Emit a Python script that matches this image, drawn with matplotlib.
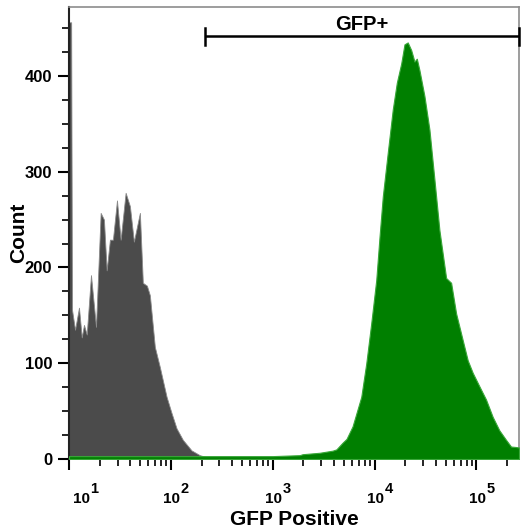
import matplotlib
matplotlib.use("Agg")
import matplotlib.pyplot as plt
from matplotlib.ticker import FixedLocator, NullFormatter
import numpy as np

plt.rcParams['font.family'] = ['Liberation Sans', 'DejaVu Sans']

# Control (unstained) histogram: fluorescence intensity vs count
control_x = [10, 10.5, 10.7, 11.46, 12.53, 13.34, 14.03, 14.93, 16.44, 18.41, 20.46,
             22.03, 23.44, 25.23, 26.98, 29.58, 32.14, 35.97, 39.63, 43.35, 49.66,
             53.09, 58.21, 62.23, 69.66, 77.98, 90.78, 101.6, 113.8, 131.2, 159.6,
             192.3, 223.9, 251]
control_y = [456, 456, 156, 135, 158, 127, 140, 130, 192, 138, 257,
             250, 197, 229, 229, 270, 229, 278, 264, 227, 257,
             184, 181, 171, 117, 96, 65, 48, 32, 20, 9,
             4, 2, 0]

# GFP sample histogram
gfp_x = [10, 1000, 1841, 1968, 2891, 3873, 4217, 4853, 5309, 6081, 7413, 8299,
         9290, 10399, 11194, 12050, 13490, 15101, 16558, 18281, 19679, 21184,
         22909, 24660, 26002, 27606, 30903, 34594, 38726, 43351, 50466, 56494,
         63241, 73451, 82224, 92045, 106905, 124451, 144544, 167880, 195434,
         218776, 244906, 262144]
gfp_y = [3, 3, 4, 5, 6.5, 8.7, 10, 17, 21, 34, 65, 100,
         142, 187, 232, 274, 320, 365, 393, 413, 433, 435,
         427, 415, 418, 406, 379, 344, 292, 239, 189, 184,
         152, 124, 103, 90, 76, 62, 44, 30, 20,
         13, 12.5, 12]

gate_label = "GFP+"
gate_range = [217, 262144]
gate_level = 442

x_major = [10, 100, 1000, 10000, 100000]
x_exponents = ['1', '2', '3', '4', '5']
y_major = [0, 100, 200, 300, 400]

fig = plt.figure(figsize=(5.24, 5.29), dpi=100)
ax = fig.add_axes([69/524, 1 - 459/529, 450/524, 452/529])

ax.fill_between(control_x, control_y, 0, color='#4b4b4b', edgecolor='#8a8a8a',
                linewidth=0.6, zorder=2)
ax.fill_between(gfp_x, gfp_y, 0, color='#007f00', edgecolor='#3aa83a',
                linewidth=0.8, zorder=3)

ax.set_xscale('log')
ax.set_xlim(10, 262144)
ax.set_ylim(0, 472)

minors = []
for dec in [10, 100, 1000, 10000, 100000]:
    for m in range(2, 10):
        v = dec * m
        if v < 262144:
            minors.append(v)
ax.xaxis.set_major_locator(FixedLocator(x_major))
ax.xaxis.set_major_formatter(NullFormatter())
ax.xaxis.set_minor_locator(FixedLocator(minors))
ax.xaxis.set_minor_formatter(NullFormatter())

ax.yaxis.set_major_locator(FixedLocator(y_major))
ax.yaxis.set_minor_locator(FixedLocator([25, 50, 75, 125, 150, 175, 225, 250, 275,
                                         325, 350, 375, 425, 450]))

ax.tick_params(axis='both', which='major', length=8, width=1.5, color='black')
ax.tick_params(axis='both', which='minor', length=5, width=1.2, color='black')
ax.tick_params(axis='y', which='major', labelsize=12, pad=4)
for lab in ax.get_yticklabels():
    lab.set_fontweight('bold')

# x tick labels: base "10" with full-size exponent
px = 72 / 100.0
for i, (v, e) in enumerate(zip(x_major, x_exponents)):
    shift = 12 if i == 0 else 1
    ax.annotate('10', xy=(v, 0), xycoords=('data', 'axes fraction'),
                xytext=(shift * px, -44 * px), textcoords='offset points',
                ha='center', va='baseline', fontsize=11, fontweight='bold')
    ax.annotate(e, xy=(v, 0), xycoords=('data', 'axes fraction'),
                xytext=((shift + 9) * px, -34 * px), textcoords='offset points',
                ha='left', va='baseline', fontsize=10.5, fontweight='bold')

for s in ['top', 'right']:
    ax.spines[s].set_color('#8c8c8c')
    ax.spines[s].set_linewidth(1.2)
ax.spines['left'].set_color('#222222')
ax.spines['left'].set_linewidth(1.5)
ax.spines['bottom'].set_color('#222222')
ax.spines['bottom'].set_linewidth(1.2)

ax.set_xlabel('GFP Positive', fontsize=15, fontweight='bold')
ax.xaxis.set_label_coords(0.5, -(525 - 459) / 452)
ax.xaxis.label.set_verticalalignment('baseline')
ax.set_ylabel('Count', fontsize=15, fontweight='bold')
ax.yaxis.set_label_coords(-0.09, 0.5)

# gate bar
ax.plot(gate_range, [gate_level, gate_level], color='black', lw=1.8, zorder=5,
        solid_capstyle='butt', clip_on=False)
for gx in gate_range:
    ax.plot([gx, gx], [gate_level - 10, gate_level + 8], color='black', lw=1.8,
            zorder=5, clip_on=False)
gmid = np.sqrt(gate_range[0] * gate_range[1])
ax.text(gmid, 448, gate_label, ha='center', va='baseline',
        fontsize=14.5, fontweight='bold', zorder=6)

fig.savefig('out.png', dpi=100)
